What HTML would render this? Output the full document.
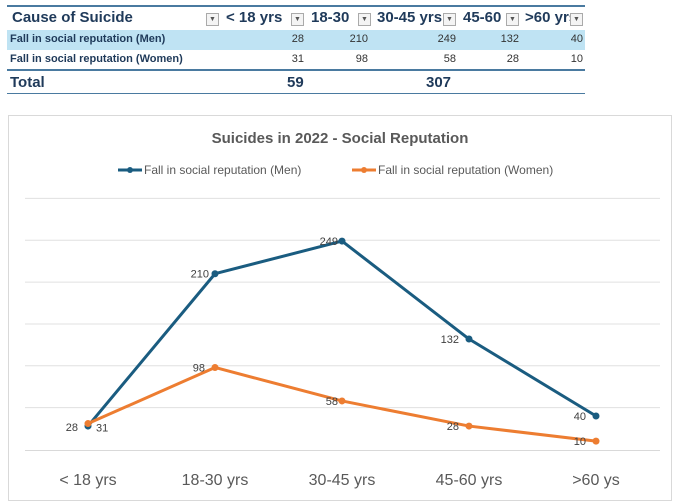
<!DOCTYPE html>
<html><head><meta charset="utf-8"><style>
body{margin:0;width:680px;height:504px;background:#fff;font-family:"Liberation Sans",sans-serif;position:relative;overflow:hidden}
.t{position:absolute;white-space:nowrap}
.dd{position:absolute;width:11px;height:11px;border:1px solid #aaa;background:#f4f4f4;font-size:7px;text-align:center;line-height:11px;color:#555}
</style></head><body>
<div>
<div style="position:absolute;left:7px;top:5px;width:578px;height:2px;background:#4a7aa0"></div>
<div class="t" style="left:12px;top:9px;font-size:15px;font-weight:bold;color:#1f3a5a">Cause of Suicide</div>
<div class="dd" style="left:206px;top:13px">▼</div>
<div class="t" style="left:226px;top:9px;font-size:15px;font-weight:bold;color:#1f3a5a">&lt; 18 yrs</div>
<div class="dd" style="left:291px;top:13px">▼</div>
<div class="t" style="left:311px;top:9px;font-size:15px;font-weight:bold;color:#1f3a5a">18-30</div>
<div class="dd" style="left:358px;top:13px">▼</div>
<div class="t" style="left:377px;top:9px;font-size:15px;font-weight:bold;color:#1f3a5a;width:65px;overflow:hidden">30-45 yrs</div>
<div class="dd" style="left:443px;top:13px">▼</div>
<div class="t" style="left:463px;top:9px;font-size:15px;font-weight:bold;color:#1f3a5a;width:42px;overflow:hidden">45-60</div>
<div class="dd" style="left:506px;top:13px">▼</div>
<div class="t" style="left:525px;top:9px;font-size:15px;font-weight:bold;color:#1f3a5a;width:45px;overflow:hidden">&gt;60 yrs</div>
<div class="dd" style="left:570px;top:13px">▼</div>
<div style="position:absolute;left:7px;top:30px;width:578px;height:20px;background:#bfe3f3"></div>
<div class="t" style="left:10px;top:33px;font-size:11px;font-weight:bold;color:#1f3a5a">Fall in social reputation (Men)</div>
<div class="t" style="left:10px;top:53px;font-size:11px;font-weight:bold;color:#1f3a5a">Fall in social reputation (Women)</div>
<div style="position:absolute;left:7px;top:69px;width:578px;height:2px;background:#4a7aa0"></div>
<div class="t" style="left:10px;top:74px;font-size:15px;font-weight:bold;color:#1f3a5a">Total</div>
<div class="t" style="left:287px;top:74px;font-size:15px;font-weight:bold;color:#1f3a5a">59</div>
<div class="t" style="left:426px;top:74px;font-size:15px;font-weight:bold;color:#1f3a5a">307</div>
<div style="position:absolute;left:7px;top:93px;width:578px;height:1px;background:#4a7aa0"></div>
<div id="cells"></div>
</div>
<svg width="680" height="504" style="position:absolute;left:0;top:0" id="chart">
<rect x="8.5" y="115.5" width="663" height="385" fill="none" stroke="#d9d9d9"/>
<text x="340" y="143" text-anchor="middle" font-size="15" font-weight="bold" fill="#595959">Suicides in 2022 - Social Reputation</text>
<g><line x1="118" y1="170" x2="142" y2="170" stroke="#1a5c80" stroke-width="3"/><circle cx="130" cy="170" r="3" fill="#1a5c80"/><text x="144" y="174" font-size="12" fill="#595959">Fall in social reputation (Men)</text></g>
<g><line x1="352" y1="170" x2="376" y2="170" stroke="#ed7d31" stroke-width="3"/><circle cx="364" cy="170" r="3" fill="#ed7d31"/><text x="378" y="174" font-size="12" fill="#595959">Fall in social reputation (Women)</text></g>
<g id="plot"></g>
</svg>
<script>
const categories=["< 18 yrs","18-30 yrs","30-45 yrs","45-60 yrs",">60 ys"];
const men=[28,210,249,132,40];
const women=[31,98,58,28,10];
const yTicks=[0,50,100,150,200,250,300];
const ns="http://www.w3.org/2000/svg";
const x=i=>88+i*127, y=v=>449.5-v*0.837;
const g=document.getElementById('plot');
function mk(t,a){const e=document.createElementNS(ns,t);for(const k in a)e.setAttribute(k,a[k]);g.appendChild(e);return e;}
yTicks.forEach(v=>{if(v===0)return;const l=mk('line',{x1:25,x2:660,y1:y(v),y2:y(v),stroke:'#e0e0e0'});

});
const ax=mk('line',{x1:25,x2:660,y1:y(0)+1,y2:y(0)+1,stroke:'#d9d9d9'});


categories.forEach((c,i)=>{const t=mk('text',{x:x(i),y:485,'text-anchor':'middle','font-size':16,fill:'#595959'});t.textContent=c;

});
function series(d,col,name,lab){
 const p=mk('polyline',{points:d.map((v,i)=>x(i)+','+y(v)).join(' '),fill:'none',stroke:col,'stroke-width':3,'stroke-linejoin':'round'});
 
 
 d.forEach((v,i)=>{const c=mk('circle',{cx:x(i),cy:y(v),r:3.5,fill:col});
 
 
 const o=lab[i];const t=mk('text',{x:x(i)+o[0],y:y(v)+o[1],'text-anchor':o[2],'font-size':11,fill:'#404040'});t.textContent=v;
 
 });
}
series(men,'#1a5c80','men',[[-10,5,'end'],[-6,4,'end'],[-4,4,'end'],[-10,4,'end'],[-10,4,'end']]);
series(women,'#ed7d31','women',[[8,8,'start'],[-10,4,'end'],[-4,4,'end'],[-10,4,'end'],[-10,4,'end']]);
const cells=document.getElementById('cells');
const cx=[304,368,456,519,583];
[men,women].forEach((d,r)=>d.forEach((v,i)=>{const e=document.createElement('div');e.className='t';e.style.cssText=`right:${680-cx[i]}px;top:${33+r*20}px;font-size:11px;color:#333`;e.textContent=v;


cells.appendChild(e);}));
</script>
</body></html>
